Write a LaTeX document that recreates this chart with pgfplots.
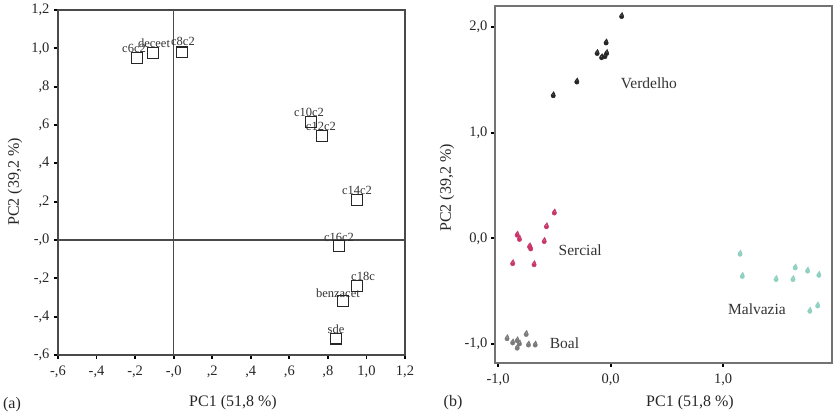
\documentclass[border=0pt]{standalone}
\usepackage{pgfplots}
\pgfplotsset{compat=1.18}
\usepackage{fontspec}
\setmainfont{Liberation Serif}
\definecolor{sercial}{HTML}{C8356A}
\definecolor{malv}{HTML}{8FD0C0}
\definecolor{boal}{HTML}{7A7A7A}
\definecolor{frame}{HTML}{4A4A4A}
\pgfdeclareplotmark{drop}{%
  \pgfpathcircle{\pgfpointorigin}{\pgfplotmarksize}%
  \pgfpathmoveto{\pgfqpoint{-0.75\pgfplotmarksize}{0.6\pgfplotmarksize}}%
  \pgfpathlineto{\pgfqpoint{0.25\pgfplotmarksize}{1.9\pgfplotmarksize}}%
  \pgfpathlineto{\pgfqpoint{0.85\pgfplotmarksize}{0.5\pgfplotmarksize}}%
  \pgfpathclose
  \pgfusepathqfillstroke}
\begin{document}
\begin{tikzpicture}[x=1pt,y=1pt]
\path[use as bounding box] (0,0) rectangle (836,420);
\pgfplotsset{
  common/.style={
    scale only axis,
    axis line style={draw=frame, line width=1.2pt},
    tick style={black, line width=1.8pt},
    major tick length=4pt,
    tick align=outside,
    xtick pos=left, ytick pos=left,
    tick label style={font=\fontsize{14.5}{16}\selectfont, text=black!85},
  }
}
% ---------------- panel (a)
\begin{axis}[common,
  at={(58pt,65pt)}, anchor=south west, width=347pt, height=345pt,
  xmin=-0.6, xmax=1.2, ymin=-0.6, ymax=1.2,
  xtick={-0.6,-0.4,-0.2,0,0.2,0.4,0.6,0.8,1.0,1.2},
  xticklabels={{-,6},{-,4},{-,2},{-,0},{,2},{,4},{,6},{,8},{1,0},{1,2}},
  ytick={-0.6,-0.4,-0.2,0,0.2,0.4,0.6,0.8,1.0,1.2},
  yticklabels={{-,6},{-,4},{-,2},{-,0},{,2},{,4},{,6},{,8},{1,0},{1,2}},
  xticklabel style={yshift=-3pt},
  yticklabel style={xshift=-1pt},
  clip=false,
]
\addplot[frame, line width=1.4pt] coordinates {(0,-0.6) (0,1.2)};
\addplot[frame, line width=1.4pt] coordinates {(-0.6,0) (1.2,0)};
\addplot[only marks, mark=square, mark size=5.2pt, mark options={black!85, line width=1.2pt}] coordinates {
(-0.19,0.95) (-0.107,0.976) (0.043,0.98) (0.712,0.616) (0.769,0.543)
(0.951,0.209) (0.858,-0.031) (0.951,-0.24) (0.878,-0.318) (0.842,-0.516)};
\begin{scope}[every node/.style={font=\fontsize{12.5}{14}\selectfont, anchor=south, inner sep=0.5pt, text=black!80}]
\node[xshift=-3pt] at (axis cs:-0.19,0.95) [yshift=5pt] {c6c2};
\node[xshift=1pt] at (axis cs:-0.107,0.976) [yshift=5pt] {deceet};
\node[xshift=1pt] at (axis cs:0.043,0.98) [yshift=6pt] {c8c2};
\node[xshift=-2pt] at (axis cs:0.712,0.616) [yshift=5pt] {c10c2};
\node[xshift=-1pt] at (axis cs:0.769,0.543) [yshift=5pt] {c12c2};
\node at (axis cs:0.951,0.209) [yshift=5pt] {c14c2};
\node at (axis cs:0.858,-0.031) [yshift=4pt] {c16c2};
\node[xshift=6pt] at (axis cs:0.951,-0.24) [yshift=5pt] {c18c};
\node[xshift=-5pt] at (axis cs:0.878,-0.318) [yshift=3pt] {benzacet};
\node at (axis cs:0.842,-0.516) [yshift=5pt] {sde};
\end{scope}
\end{axis}
% ---------------- panel (b)
\begin{axis}[common,
  at={(495pt,57pt)}, anchor=south west, width=337pt, height=357pt,
  xmin=-1.027, xmax=1.967, ymin=-1.18, ymax=2.2,
  xtick={-1,0,1}, xticklabels={{-1,0},{0,0},{1,0}},
  ytick={-1,0,1,2}, yticklabels={{-1,0},{0,0},{1,0},{2,0}},
  xticklabel style={yshift=-3pt},
  axis line style={draw=black!55, line width=1.2pt},
  clip=false,
]
\addplot[only marks, mark=drop, mark size=2.2pt, mark options={fill=black!85, draw=black!85, line width=0.4pt}] coordinates {
(0.098,2.10) (-0.04,1.85) (-0.035,1.75) (-0.12,1.75) (-0.08,1.71) (-0.05,1.72) (-0.30,1.48) (-0.51,1.35)};
\addplot[only marks, mark=drop, mark size=2.2pt, mark options={fill=sercial, draw=sercial, line width=0.4pt}] coordinates {
(-0.50,0.24) (-0.57,0.11) (-0.83,0.03) (-0.81,-0.01) (-0.72,-0.08) (-0.71,-0.10) (-0.59,-0.03) (-0.87,-0.24) (-0.68,-0.25)};
\addplot[only marks, mark=drop, mark size=2.2pt, mark options={fill=malv, draw=malv, line width=0.4pt}] coordinates {
(1.15,-0.15) (1.17,-0.36) (1.47,-0.39) (1.62,-0.39) (1.64,-0.28) (1.75,-0.31) (1.85,-0.35) (1.84,-0.64) (1.77,-0.69)};
\addplot[only marks, mark=drop, mark size=2.2pt, mark options={fill=boal, draw=boal, line width=0.4pt}] coordinates {
(-0.92,-0.95) (-0.75,-0.91) (-0.87,-0.99) (-0.83,-0.97) (-0.81,-1.00) (-0.83,-1.04) (-0.73,-1.01) (-0.67,-1.01)};
\begin{scope}[every node/.style={font=\fontsize{15.5}{17}\selectfont, text=black!80, inner sep=0pt}]
\node at (axis cs:0.34,1.47) {Verdelho};
\node at (axis cs:-0.27,-0.11) {Sercial};
\node at (axis cs:1.30,-0.67) {Malvazia};
\node at (axis cs:-0.41,-0.99) {Boal};
\end{scope}
\end{axis}
% ---------------- outer labels
\begin{scope}[every node/.style={font=\fontsize{16}{18}\selectfont, text=black!85}]
\node[rotate=90] at (15,238) {PC2 (39,2 \%)};
\node at (233,17) {PC1 (51,8 \%)};
\node at (12,15) {(a)};
\node[rotate=90] at (447,232) {PC2 (39,2 \%)};
\node at (690,17) {PC1 (51,8 \%)};
\node at (453,17) {(b)};
\end{scope}
\end{tikzpicture}
\end{document}
